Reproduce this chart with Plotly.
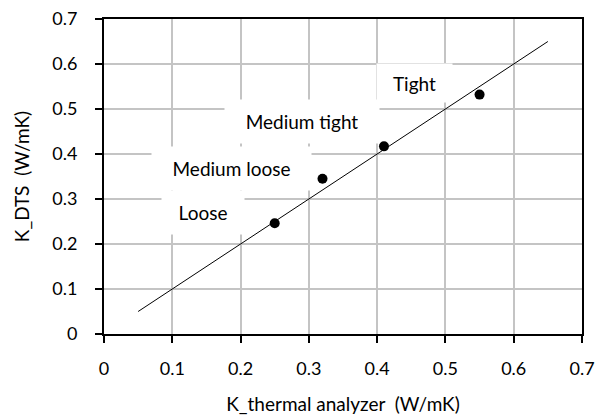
import plotly.graph_objects as go

# Data
k_thermal = [0.25, 0.32, 0.41, 0.55]
k_dts = [0.246, 0.345, 0.417, 0.532]
fit_x = [0.05, 0.65]
fit_y = [0.05, 0.65]
label_text = ["Tight", "Medium tight", "Medium loose", "Loose"]
label_x = [0.454, 0.290, 0.186, 0.145]
label_y = [0.558, 0.473, 0.367, 0.269]
label_w = [75, 154, 159, 82]
label_h = [38, 43, 43, 43]
ticks = [0, 0.1, 0.2, 0.3, 0.4, 0.5, 0.6, 0.7]
tick_text = ["0", "0.1", "0.2", "0.3", "0.4", "0.5", "0.6", "0.7"]

FONT = "Lato"

fig = go.Figure()
fig.add_trace(go.Scatter(x=fit_x, y=fit_y, mode="lines",
                         line=dict(color="black", width=1), showlegend=False))
fig.add_trace(go.Scatter(x=k_thermal, y=k_dts, mode="markers",
                         marker=dict(color="black", size=10), showlegend=False))

for t, x, y, w, h in zip(label_text, label_x, label_y, label_w, label_h):
    fig.add_annotation(x=x, y=y, text=t, showarrow=False, bgcolor="white",
                       width=w, height=h, borderpad=0,
                       font=dict(family=FONT, size=19, color="black"))

axis_common = dict(
    range=[0, 0.7], tickvals=ticks, ticktext=tick_text,
    showgrid=True, gridcolor="#c4c4c4", gridwidth=1.5,
    showline=True, linecolor="black", linewidth=2, mirror=True,
    ticks="outside", ticklen=7, tickcolor="black", tickwidth=1.5,
    zeroline=False, automargin=False,
    tickfont=dict(family=FONT, size=18, color="black"),
)

fig.update_xaxes(**axis_common, ticklabelstandoff=10,
                 title=dict(text="K_thermal analyzer  (W/mK)", standoff=20,
                            font=dict(family=FONT, size=19, color="black")))
fig.update_yaxes(**axis_common, ticklabelstandoff=14,
                 title=dict(text="K_DTS  (W/mK)", standoff=18,
                            font=dict(family=FONT, size=19, color="black")))

fig.update_layout(
    width=598, height=418,
    margin=dict(l=104, r=16, t=19, b=84),
    plot_bgcolor="white", paper_bgcolor="white",
)

fig.write_html("out.html")
